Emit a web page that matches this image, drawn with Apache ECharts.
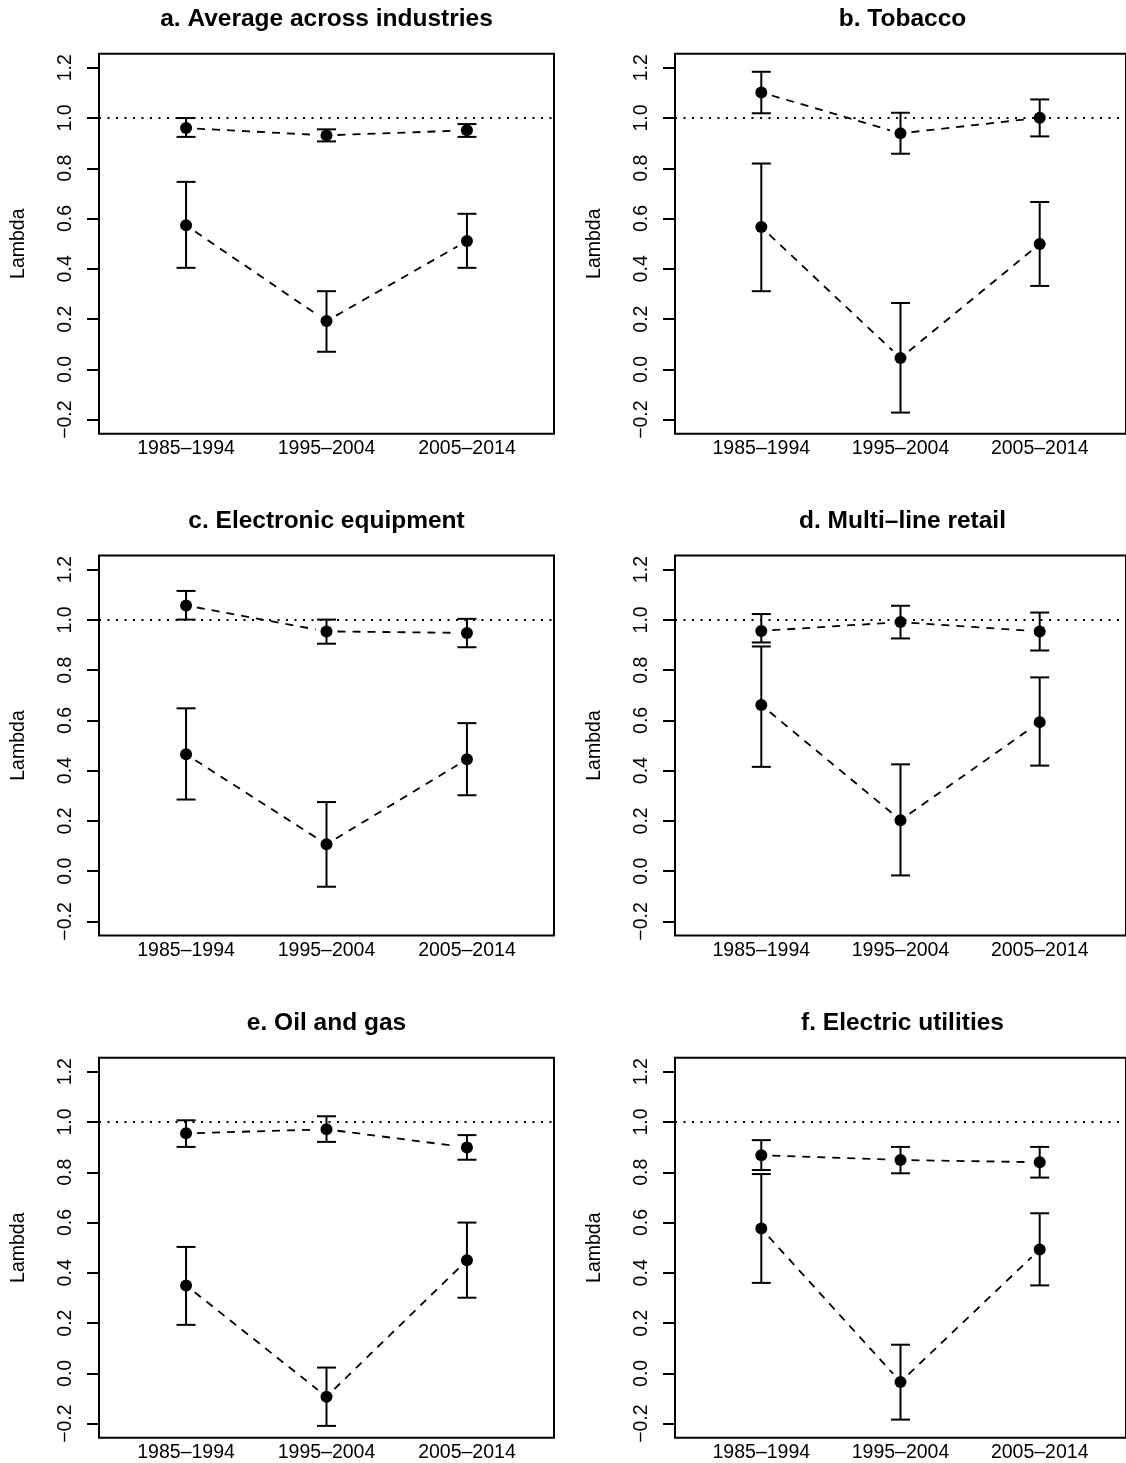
<!DOCTYPE html>
<html>
<head>
<meta charset="utf-8">
<script src="https://cdn.jsdelivr.net/npm/echarts@6/dist/echarts.min.js"></script>
<style>
  html, body { margin: 0; padding: 0; background: #fff; }
</style>
</head>
<body>
<div id="main" style="width: 1126px; height: 1463px;"></div>
<script>
// x categories and y tick values
var periods = ['1985–1994', '1995–2004', '2005–2014'];
var yTicks = [-0.2, 0, 0.2, 0.4, 0.6, 0.8, 1.0, 1.2];

// each row: [estimate, lower bound, upper bound] per period
var avgUpper = [[0.960, 0.925, 1.000], [0.931, 0.907, 0.955], [0.951, 0.925, 0.976]];
var avgLower = [[0.573, 0.404, 0.746], [0.192, 0.070, 0.311], [0.511, 0.404, 0.619]];
var tobaccoUpper = [[1.102, 1.019, 1.184], [0.939, 0.858, 1.021], [1.001, 0.927, 1.074]];
var tobaccoLower = [[0.566, 0.311, 0.819], [0.045, -0.172, 0.264], [0.499, 0.332, 0.666]];
var electronicUpper = [[1.057, 1.001, 1.115], [0.954, 0.905, 1.001], [0.948, 0.891, 1.004]];
var electronicLower = [[0.465, 0.285, 0.648], [0.107, -0.062, 0.275], [0.445, 0.302, 0.589]];
var retailUpper = [[0.956, 0.910, 1.023], [0.991, 0.926, 1.056], [0.954, 0.878, 1.029]];
var retailLower = [[0.661, 0.415, 0.894], [0.203, -0.017, 0.425], [0.593, 0.420, 0.771]];
var oilUpper = [[0.955, 0.901, 1.007], [0.971, 0.921, 1.023], [0.899, 0.850, 0.948]];
var oilLower = [[0.350, 0.193, 0.503], [-0.093, -0.209, 0.023], [0.450, 0.301, 0.600]];
var utilUpper = [[0.868, 0.809, 0.928], [0.849, 0.796, 0.901], [0.840, 0.779, 0.901]];
var utilLower = [[0.576, 0.360, 0.793], [-0.034, -0.184, 0.114], [0.493, 0.350, 0.637]];

var panels = [
  { title: 'a. Average across industries', sets: [avgUpper, avgLower] },
  { title: 'b. Tobacco', sets: [tobaccoUpper, tobaccoLower] },
  { title: 'c. Electronic equipment', sets: [electronicUpper, electronicLower] },
  { title: 'd. Multi–line retail', sets: [retailUpper, retailLower] },
  { title: 'e. Oil and gas', sets: [oilUpper, oilLower] },
  { title: 'f. Electric utilities', sets: [utilUpper, utilLower] }
];

var FONT = 'Liberation Sans, Arial, Helvetica, sans-serif';
var colLeft = [99, 675];
var rowTop = [53.7, 555.5, 1057.7];
var boxW = 455, boxH = 380;

// error bar + dashed link to the next point (with a gap round the points, like type = "b")
function renderBars (params, api) {
  var x = api.value(0);
  var p = api.coord([x, api.value(1)]);
  var lo = api.coord([x, api.value(2)]);
  var hi = api.coord([x, api.value(3)]);
  var cap = 9.5;
  var solid = { stroke: '#000', lineWidth: 2, fill: null };
  var children = [
    { type: 'line', shape: { x1: lo[0], y1: lo[1], x2: hi[0], y2: hi[1] }, style: solid },
    { type: 'line', shape: { x1: lo[0] - cap, y1: lo[1], x2: lo[0] + cap, y2: lo[1] }, style: solid },
    { type: 'line', shape: { x1: hi[0] - cap, y1: hi[1], x2: hi[0] + cap, y2: hi[1] }, style: solid }
  ];
  var next = api.value(4);
  if (!isNaN(next)) {
    var q = api.coord([x + 1, next]);
    var dx = q[0] - p[0], dy = q[1] - p[1];
    var len = Math.sqrt(dx * dx + dy * dy), g = 11;
    children.push({
      type: 'line',
      shape: { x1: p[0] + dx / len * g, y1: p[1] + dy / len * g, x2: q[0] - dx / len * g, y2: q[1] - dy / len * g },
      style: { stroke: '#000', lineWidth: 1.8, lineDash: [8, 7], fill: null }
    });
  }
  return { type: 'group', children: children };
}

var grids = [], xAxes = [], yAxes = [], series = [], graphics = [];

panels.forEach(function (panel, k) {
  var left = colLeft[k % 2];
  var top = rowTop[Math.floor(k / 2)];
  grids.push({
    left: left, top: top, width: boxW, height: boxH,
    show: true, borderColor: '#000', borderWidth: 2, backgroundColor: 'transparent'
  });
  xAxes.push({
    gridIndex: k, type: 'value', min: 0.38, max: 3.62,
    axisLine: { show: false }, axisTick: { show: false }, splitLine: { show: false },
    axisLabel: {
      customValues: [1, 2, 3],
      formatter: function (v) { return periods[Math.round(v) - 1]; },
      margin: 5, color: '#000', fontSize: 19.5, fontFamily: FONT
    }
  });
  yAxes.push({
    gridIndex: k, type: 'value', min: -0.256, max: 1.256,
    name: 'Lambda', nameLocation: 'middle', nameRotate: 90, nameGap: 70,
    nameTextStyle: { color: '#000', fontSize: 19.5, fontFamily: FONT },
    axisLine: { show: false }, splitLine: { show: false },
    axisTick: { show: true, customValues: yTicks, length: 12, lineStyle: { color: '#000', width: 2 } },
    axisLabel: {
      customValues: yTicks, rotate: 90, margin: 23,
      formatter: function (v) { return v.toFixed(1).replace('-', '−'); },
      color: '#000', fontSize: 19.5, fontFamily: FONT
    }
  });
  graphics.push({
    type: 'text', x: left + boxW / 2, y: top - 34,
    style: { text: panel.title, align: 'center', verticalAlign: 'middle', fill: '#000',
      font: 'bold 24.5px ' + FONT }
  });

  panel.sets.forEach(function (set, s) {
    var barData = set.map(function (r, i) {
      return [i + 1, r[0], r[1], r[2], i < set.length - 1 ? set[i + 1][0] : '-'];
    });
    series.push({
      type: 'custom', xAxisIndex: k, yAxisIndex: k,
      renderItem: renderBars, data: barData, clip: false, silent: true,
      encode: { x: 0, y: 1 }
    });
    var pt = {
      type: 'scatter', xAxisIndex: k, yAxisIndex: k,
      symbol: 'circle', symbolSize: 12, itemStyle: { color: '#000', opacity: 1 },
      data: set.map(function (r, i) { return [i + 1, r[0]]; }),
      silent: true, z: 5
    };
    if (s === 0) {
      pt.markLine = {
        silent: true, symbol: ['none', 'none'], label: { show: false },
        lineStyle: { color: '#000', width: 2, type: [2, 6.5] },
        data: [{ yAxis: 1 }]
      };
    }
    series.push(pt);
  });
});

var chart = echarts.init(document.getElementById('main'));
chart.setOption({
  animation: false,
  backgroundColor: '#fff',
  grid: grids,
  xAxis: xAxes,
  yAxis: yAxes,
  graphic: graphics,
  series: series
});
</script>
</body>
</html>
